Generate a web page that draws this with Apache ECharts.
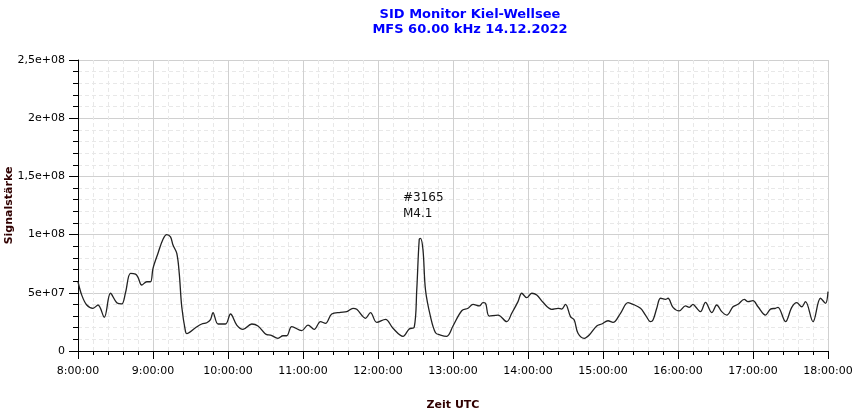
<!DOCTYPE html>
<html>
<head>
<meta charset="utf-8">
<script src="https://cdn.jsdelivr.net/npm/echarts@6/dist/echarts.min.js"></script>
<style>html,body{margin:0;padding:0;background:#fff}#c{width:853px;height:413px}</style>
</head>
<body>
<div id="c"></div>
<script>
var titleLines = ['SID Monitor Kiel-Wellsee', 'MFS 60.00 kHz 14.12.2022'];
var xName = 'Zeit UTC';
var yName = 'Signalstärke';
var yTickLabels = ['0', '5e+07', '1e+08', '1,5e+08', '2e+08', '2,5e+08'];
var annotation = ['#3165', 'M4.1'];
var annotationAt = ['12:20', 1.25e8];

var times = ['8:00','8:03','8:07','8:12','8:16','8:21','8:26','8:31','8:35','8:38','8:42','8:46','8:48','8:51','8:55','8:58',
'9:00','9:04','9:08','9:11','9:14','9:16','9:19','9:21','9:23','9:26','9:27','9:34','9:39','9:43','9:46','9:48','9:52','9:58',
'10:02','10:07','10:12','10:19','10:24','10:31','10:34','10:40','10:44','10:47','10:51','10:59',
'11:04','11:09','11:14','11:18','11:23','11:30','11:35','11:40','11:43','11:50','11:54','11:59',
'12:06','12:12','12:20','12:25','12:29','12:31','12:33','12:34','12:36','12:38','12:42','12:46','12:50','12:55',
'13:00','13:07','13:12','13:16','13:21','13:24','13:26','13:29','13:36','13:43','13:47','13:52','13:55','13:59',
'14:03','14:07','14:12','14:19','14:24','14:27','14:30','14:34','14:37','14:40','14:45','14:49','14:55','14:59',
'15:04','15:08','15:14','15:20','15:24','15:30','15:34','15:38','15:40','15:43','15:46','15:50','15:52','15:56',
'16:01','16:06','16:09','16:12','16:14','16:18','16:22','16:27','16:31','16:35','16:39','16:44','16:48','16:53','16:56',
'17:00','17:04','17:10','17:14','17:18','17:20','17:26','17:31','17:35','17:39','17:42','17:48','17:54','17:58','18:00'];
var signal = [59.5e6,48e6,39.5e6,36.7e6,39.5e6,29e6,49.6e6,41.5e6,40.4e6,50e6,66.7e6,66e6,63.3e6,56.7e6,59.5e6,59.5e6,
71e6,84e6,96e6,100e6,98e6,91e6,84e6,66.7e6,38e6,16.6e6,15e6,20e6,23.2e6,24.3e6,27e6,33e6,23.2e6,23.2e6,
31.8e6,22.3e6,18.6e6,23.2e6,21.5e6,14e6,13.7e6,10.9e6,13.1e6,13.1e6,20.9e6,17.5e6,
22.3e6,18.6e6,25.2e6,23.8e6,31.8e6,33.2e6,33.8e6,36.7e6,35.8e6,28.1e6,33e6,24.6e6,
27.2e6,19.5e6,12.6e6,19e6,20.5e6,52.4e6,96e6,96.8e6,86.8e6,52.4e6,29.5e6,15.7e6,13.7e6,12.6e6,
21.5e6,34.6e6,36.7e6,40.1e6,38.7e6,41.5e6,41e6,30e6,30.9e6,25.2e6,32.4e6,42.4e6,49.6e6,45.8e6,
49.6e6,48.1e6,41.8e6,35.8e6,36.7e6,36e6,40.1e6,29.5e6,26.6e6,15.2e6,10.9e6,13.7e6,21.5e6,23.2e6,
26e6,24.6e6,32.4e6,41.5e6,40.1e6,36.7e6,30.9e6,25.2e6,26.6e6,36.7e6,45.3e6,44.4e6,45.3e6,37.5e6,
34.4e6,38.7e6,37.5e6,40.1e6,38e6,33.8e6,41.8e6,33e6,39.5e6,33.8e6,30.9e6,38e6,40.1e6,44.4e6,42.4e6,
43.2e6,38e6,30.9e6,36e6,36.7e6,37.5e6,25.2e6,37.5e6,41.5e6,38e6,42.4e6,25.2e6,45.3e6,41e6,51e6];

function toMin(t){var p=t.split(':');return (+p[0])*60+(+p[1]);}
var seriesData = times.map(function(t,i){return [toMin(t), signal[i]];});

var chart = echarts.init(document.getElementById('c'));
var fontFam = 'DejaVu Sans';
chart.setOption({
  animation: false,
  title: {
    text: titleLines.join('\n'),
    left: 465, top: 2, textAlign: 'center',
    textStyle: {color: '#0000ff', fontSize: 13, fontWeight: 'bold', fontFamily: fontFam, lineHeight: 15}
  },
  grid: {left: 78, right: 25, top: 60, bottom: 62, containLabel: false, outerBoundsMode: 'none'},
  xAxis: {
    type: 'value', min: 480, max: 1080, interval: 60,
    name: xName, nameLocation: 'middle', nameGap: 49, nameMoveOverlap: false,
    nameTextStyle: {color: '#300000', fontSize: 11, fontWeight: 'bold', fontFamily: fontFam},
    axisLine: {show: true, onZero: false, lineStyle: {color: '#000', width: 1}},
    axisTick: {show: true, length: 8, lineStyle: {color: '#000'}},
    minorTick: {show: true, splitNumber: 5, length: 4, lineStyle: {color: '#000'}},
    axisLabel: {color: '#000', fontSize: 11, fontFamily: fontFam, margin: 15,
      formatter: function(v){return Math.floor(v/60)+':00:00';}},
    splitLine: {show: true, lineStyle: {color: '#d0d0d0', width: 1}},
    minorSplitLine: {show: true, lineStyle: {color: '#e8e8e8', type: [4,3], width: 1}}
  },
  yAxis: {
    type: 'value', min: 0, max: 2.5e8, interval: 5e7,
    name: yName, nameLocation: 'middle', nameGap: 63, nameRotate: 90, nameMoveOverlap: false,
    nameTextStyle: {color: '#300000', fontSize: 11, fontWeight: 'bold', fontFamily: fontFam},
    axisLine: {show: true, lineStyle: {color: '#000', width: 1}},
    axisTick: {show: true, length: 9, lineStyle: {color: '#000'}},
    minorTick: {show: true, splitNumber: 5, length: 5, lineStyle: {color: '#000'}},
    axisLabel: {color: '#000', fontSize: 11, fontFamily: fontFam, margin: 13,
      formatter: function(v){return yTickLabels[Math.round(v/5e7)];}},
    splitLine: {show: true, lineStyle: {color: '#d0d0d0', width: 1}},
    minorSplitLine: {show: true, lineStyle: {color: '#e8e8e8', type: [4,3], width: 1}}
  },
  series: [{
    type: 'line', data: seriesData, smooth: 0.35, symbol: 'none',
    lineStyle: {color: '#222', width: 1.3},
    markPoint: {
      symbol: 'circle', symbolSize: 1, itemStyle: {color: 'rgba(0,0,0,0)'},
      label: {show: true, position: 'inside', align: 'left', verticalAlign: 'middle',
        color: '#111', fontSize: 12, fontFamily: fontFam, lineHeight: 16,
        formatter: annotation.join('\n')},
      data: [{coord: [toMin(annotationAt[0]), annotationAt[1]]}]
    }
  }]
});
</script>
</body>
</html>
